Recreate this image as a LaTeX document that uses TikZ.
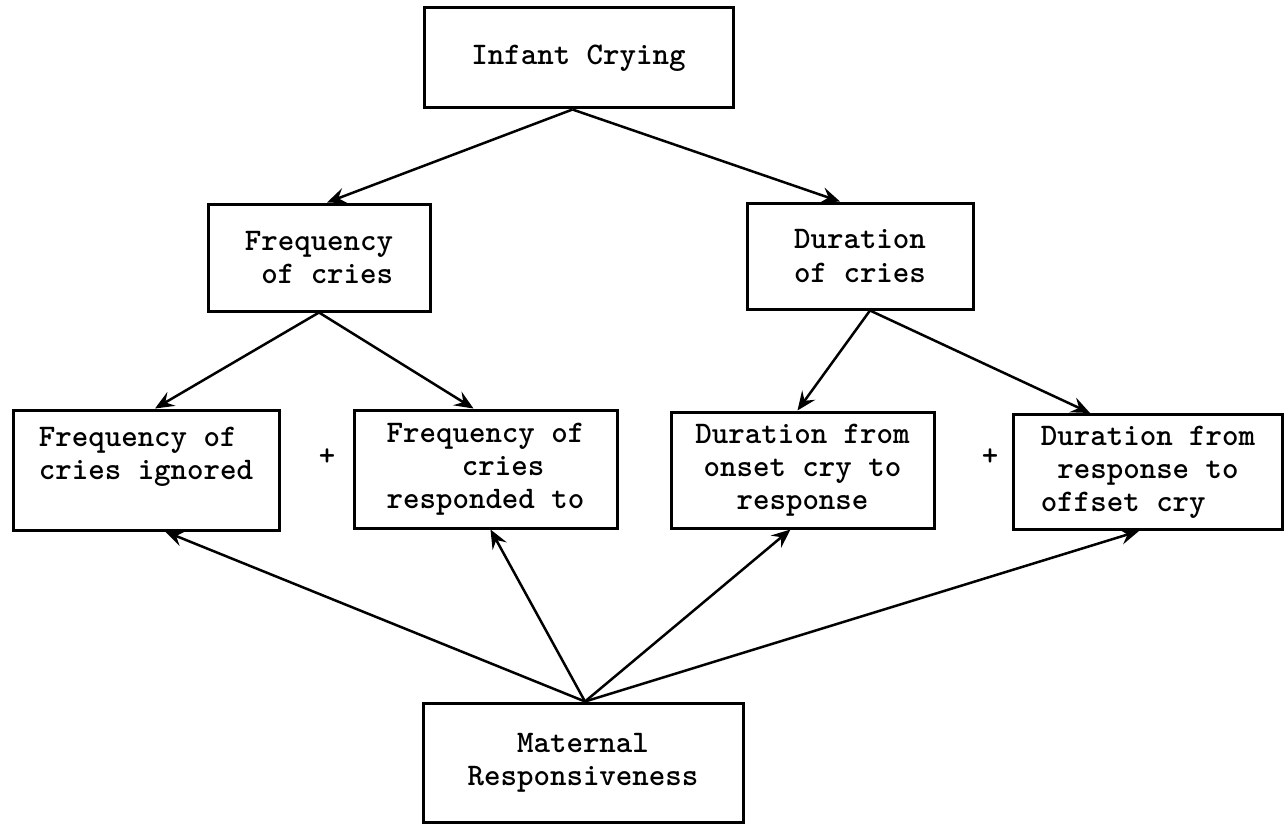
\documentclass[tikz,border=0pt]{standalone}
\usepackage{fontspec}
\usetikzlibrary{arrows.meta,calc}
\begin{document}
\begin{tikzpicture}[x=1pt,y=-1pt,
  box/.style={draw=black, line width=3pt, rectangle, inner sep=0pt,
    font=\ttfamily\bfseries\fontsize{31.4}{33}\selectfont},
  plus/.style={inner sep=0pt, font=\ttfamily\bfseries\fontsize{31.4}{33}\selectfont},
  conn/.style={line width=2.5pt, -{Stealth[length=19pt,width=16pt,inset=7pt]}},
]
\useasboundingbox (0,0) rectangle (1288,824);

\node[box, minimum width=309, minimum height=100] (ic) at (578.5,58) {Infant Crying};

\node[box, minimum width=222, minimum height=107, align=right] (fc) at (319,257.5) {Frequency\\of cries};
\node[box, minimum width=226, minimum height=106, align=left] (dc) at (860,256) {Duration\\of cries};

\node[box, minimum width=266, minimum height=120, align=left] (fci) at (146,470) {Frequency of\\cries ignored\\\mbox{}};
\node[box, minimum width=263, minimum height=118, align=left] (fcr) at (485.5,469) {Frequency of\\\hspace*{2.4em}cries\\responded to};
\node[box, minimum width=263, minimum height=116, align=center] (dor) at (802.5,470) {Duration from\\onset cry to\\response};
\node[box, minimum width=269, minimum height=115, align=left] (dro) at (1148,472) {Duration from\\\hspace*{0.525em}response to\\offset cry};

\node[plus] (p1) at (327,457) {+};
\node[plus] (p2) at (990,457) {+};

\node[box, minimum width=320, minimum height=119, align=center] (mr) at (583,762.5) {Maternal\\Responsiveness};

\draw[conn] ([xshift=-6]ic.south) -- ([xshift=8]fc.north);
\draw[conn] ([xshift=-6]ic.south) -- ([xshift=-20]dc.north);

\draw[conn] (fc.south) -- ([xshift=9]fci.north);
\draw[conn] (fc.south) -- ([xshift=-12]fcr.north);

\draw[conn] ([xshift=10]dc.south) -- ([xshift=-5]dor.north);
\draw[conn] ([xshift=10]dc.south) -- ([xshift=-58]dro.north);

\draw[conn] ([xshift=2]mr.north) -- ([xshift=19]fci.south);
\draw[conn] ([xshift=2]mr.north) -- ([xshift=5]fcr.south);
\draw[conn] ([xshift=2]mr.north) -- ([xshift=-12]dor.south);
\draw[conn] ([xshift=2]mr.north) -- ([xshift=-9]dro.south);
\end{tikzpicture}
\end{document}
